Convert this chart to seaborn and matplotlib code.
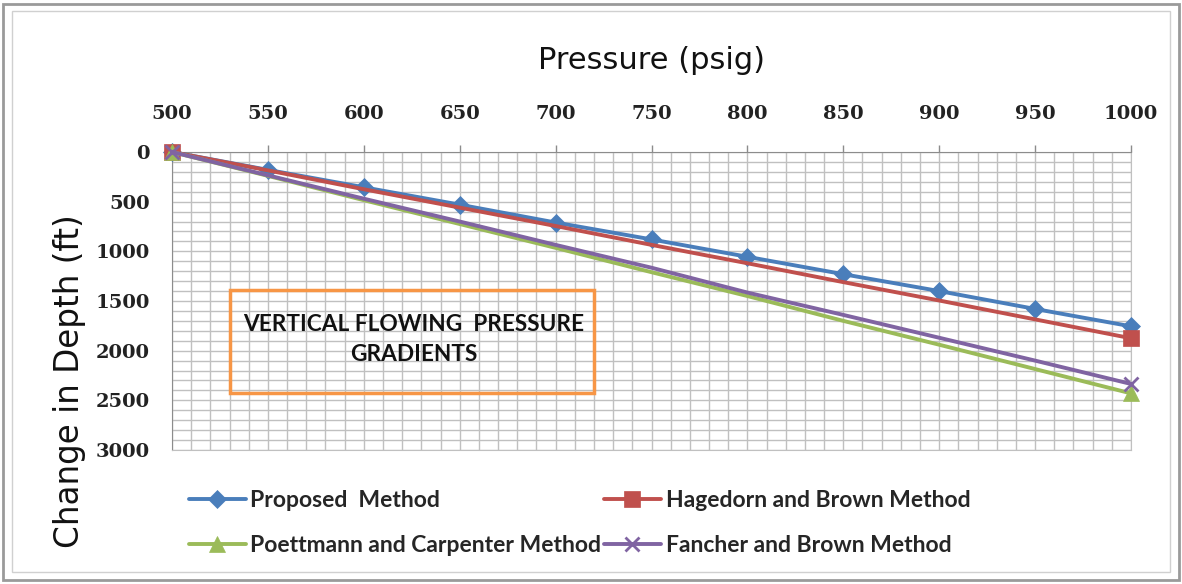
import matplotlib
matplotlib.use("Agg")
import matplotlib.pyplot as plt
import seaborn as sns
from matplotlib.ticker import MultipleLocator
from matplotlib.patches import Rectangle

# data
pressure = [500, 550, 600, 650, 700, 750, 800, 850, 900, 950, 1000]
proposed = [0, 180, 355, 530, 710, 880, 1055, 1230, 1400, 1580, 1755]
hagedorn = [0, 185, 375, 560, 745, 935, 1120, 1310, 1495, 1685, 1875]
poettmann = [0, 240, 485, 725, 965, 1210, 1450, 1700, 1940, 2185, 2430]
fancher = [0, 235, 470, 700, 935, 1165, 1415, 1640, 1870, 2100, 2335]

series_names = ["Proposed  Method", "Hagedorn and Brown Method",
                "Poettmann and Carpenter Method", "Fancher and Brown Method"]
x_ticks = [500, 550, 600, 650, 700, 750, 800, 850, 900, 950, 1000]
y_ticks = [0, 500, 1000, 1500, 2000, 2500, 3000]

sns.set_style("white")
plt.rcParams["font.family"] = ["DejaVu Sans"]

fig = plt.figure(figsize=(11.82, 5.84), dpi=100)
ax = fig.add_axes([172 / 1182, 1 - 450 / 584, (1131 - 172) / 1182, 298 / 584])

styles = [
    (proposed, "#4A7EBB", "D", 9, None),
    (hagedorn, "#C0504D", "s", 11, [0, -1]),
    (poettmann, "#9BBB59", "^", 11, [0, -1]),
    (fancher, "#8064A2", "x", 10, [0, -1]),
]
for (vals, col, mk, ms, every), name in zip(styles, series_names):
    sns.lineplot(x=pressure, y=vals, ax=ax, color=col, marker=mk, markersize=ms,
                 markevery=every, linewidth=2.8, markeredgecolor=col,
                 markeredgewidth=2 if mk == "x" else 0.5, clip_on=False,
                 label=name, zorder=3)
if ax.get_legend() is not None:
    ax.get_legend().remove()

ax.set_xlim(500, 1000)
ax.set_ylim(3000, 0)
ax.xaxis.tick_top()
ax.xaxis.set_label_position("top")
ax.set_xticks(x_ticks)
ax.set_yticks(y_ticks)
ax.xaxis.set_minor_locator(MultipleLocator(10))
ax.yaxis.set_minor_locator(MultipleLocator(100))
ax.grid(which="both", color="#C0C0C0", linewidth=1)
ax.set_axisbelow(True)
ax.tick_params(which="minor", length=0)
ax.tick_params(axis="x", which="major", length=5, width=1, color="#8C8C8C", pad=16)
ax.tick_params(axis="y", which="major", length=6, width=1, color="#8C8C8C", pad=10)
for lab in ax.get_xticklabels() + ax.get_yticklabels():
    lab.set_fontfamily("DejaVu Serif")
    lab.set_fontweight("bold")
    lab.set_fontsize(14)
    lab.set_color("#222222")
for side in ["top", "left"]:
    ax.spines[side].set_color("#8C8C8C")
for side in ["right", "bottom"]:
    ax.spines[side].set_color("#C0C0C0")

ax.set_xlabel("Pressure (psig)", fontsize=22, labelpad=26, color="#111111")
ax.set_ylabel("Change in Depth (ft)", fontsize=23.5, color="#111111")
ax.yaxis.set_label_coords(-0.09, 0.23)

# annotation box
ax.add_patch(Rectangle((530, 1390), 190, 1035, fill=False, edgecolor="#F79646",
                       linewidth=2.5, zorder=4))
ax.text(626, 1890, "VERTICAL FLOWING  PRESSURE\nGRADIENTS", ha="center", va="center",
        fontsize=16.3, fontweight="bold", family="Lato", linespacing=1.55,
        color="#111111", zorder=5)

# legend below the plot
lines = ax.get_lines()
order = [0, 2, 1, 3]
fig.legend([lines[i] for i in order], [series_names[i] for i in order],
           loc="upper left", bbox_to_anchor=(168 / 1182, 1 - 469 / 584), ncol=2,
           frameon=False, numpoints=1, handlelength=2.5, handletextpad=0.2,
           labelspacing=1.08, columnspacing=0.1,
           prop={"family": "Lato", "weight": "bold", "size": 16.5})

# outer chart borders
fig.patches.append(Rectangle((3 / 1182, 4 / 584), 1176 / 1182, 576 / 584, fill=False,
                             edgecolor="#9A9A9A", linewidth=2, transform=fig.transFigure))
fig.patches.append(Rectangle((12 / 1182, 12 / 584), 1158 / 1182, 561 / 584, fill=False,
                             edgecolor="#D0D0D0", linewidth=1, transform=fig.transFigure))

fig.savefig("out.png", dpi=100)
